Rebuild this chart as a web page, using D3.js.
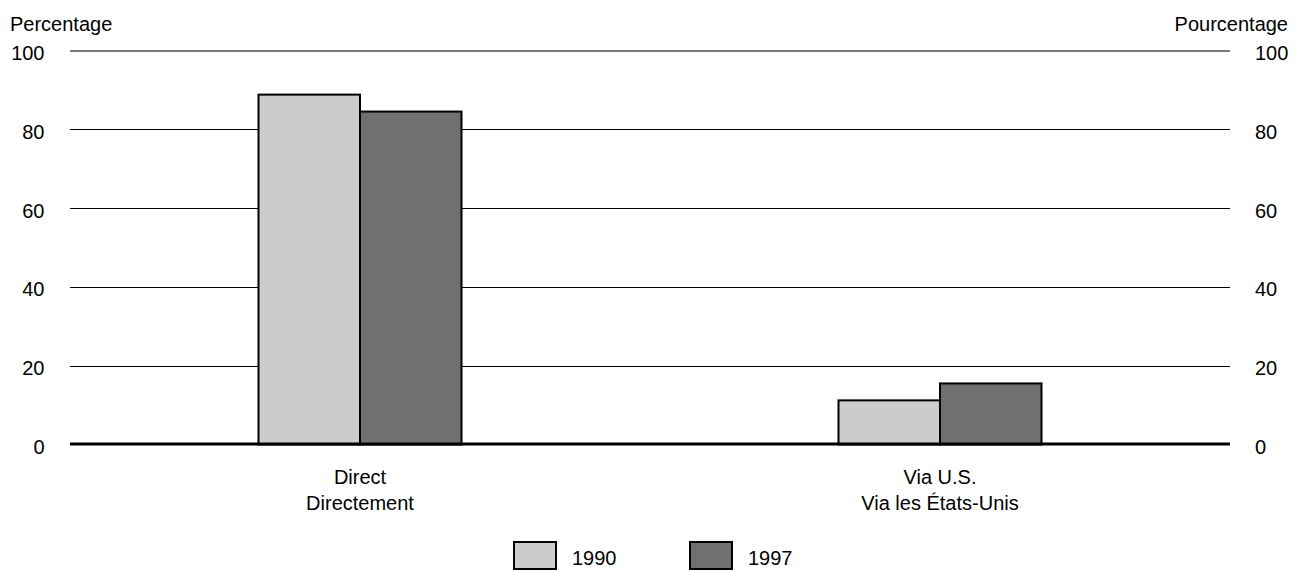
<!DOCTYPE html>
<html>
<head>
<meta charset="utf-8">
<script src="https://cdn.jsdelivr.net/npm/d3@7"></script>
<style>
  html, body { margin: 0; padding: 0; background: #fff; }
  svg { display: block; }
  text { font-family: "Liberation Sans", Arial, sans-serif; fill: #000; }
</style>
</head>
<body>
<svg id="chart" width="1299" height="570"></svg>
<script>
const categories = ["Direct|Directement", "Via U.S.|Via les États-Unis"];
const series = ["1990", "1997"];
const values1990 = [88.8, 11.2];
const values1997 = [84.5, 15.5];
const yTicks = [0, 20, 40, 60, 80, 100];
const colors = ["#cccccc", "#707070"];

const svg = d3.select("#chart");
const plotLeft = 70, plotRight = 1230, plotTop = 50.5, plotBottom = 444.5;
const fs = 20;

const y = d3.scaleLinear().domain([0, 100]).range([plotBottom, plotTop]);
const x = d3.scaleBand().domain(categories).range([plotLeft, plotRight]).padding(0);
const groupW = 203;
const xs = d3.scaleBand().domain(series).range([0, groupW]).padding(0);

// gridlines
svg.append("g").selectAll("line").data(yTicks.filter(d => d > 0)).join("line")
  .attr("x1", plotLeft).attr("x2", plotRight)
  .attr("y1", d => d === 100 ? Math.round(y(d)) : Math.round(y(d)) + 0.5)
  .attr("y2", d => d === 100 ? Math.round(y(d)) : Math.round(y(d)) + 0.5)
  .attr("stroke", d => d === 100 ? "#7a7a7a" : "#000")
  .attr("stroke-width", d => d === 100 ? 2 : 1);

// tick labels
svg.append("g").selectAll("text").data(yTicks).join("text")
  .attr("x", 44.5).attr("y", d => y(d) + 9.5)
  .attr("text-anchor", "end").attr("font-size", fs).text(d => d);
svg.append("g").selectAll("text").data(yTicks).join("text")
  .attr("x", 1255).attr("y", d => y(d) + 9.5)
  .attr("text-anchor", "start").attr("font-size", fs).text(d => d);

// axis titles
svg.append("text").attr("x", 10).attr("y", 30.5).attr("font-size", fs).text("Percentage");
svg.append("text").attr("x", 1288).attr("y", 30.5).attr("text-anchor", "end").attr("font-size", fs).text("Pourcentage");

// bars
const data = categories.map((c, i) => ({ cat: c, vals: [values1990[i], values1997[i]] }));
const g = svg.append("g");
data.forEach(d => {
  const start = x(d.cat) + x.bandwidth() / 2 - groupW / 2;
  g.selectAll(null).data(series.map((s, j) => ({ s, v: d.vals[j], j }))).join("rect")
    .attr("x", e => start + xs(e.s))
    .attr("y", e => y(e.v))
    .attr("width", xs.bandwidth())
    .attr("height", e => plotBottom - y(e.v))
    .attr("fill", e => colors[e.j])
    .attr("stroke", "#000")
    .attr("stroke-width", 2);
});

// baseline
svg.append("line").attr("x1", plotLeft).attr("x2", plotRight)
  .attr("y1", 444).attr("y2", 444).attr("stroke", "#000").attr("stroke-width", 3.2);

// category labels
const cl = svg.append("g");
categories.forEach(c => {
  const cx = x(c) + x.bandwidth() / 2;
  const parts = c.split("|");
  parts.forEach((p, k) => {
    cl.append("text").attr("x", cx).attr("y", 483.5 + k * 26.7)
      .attr("text-anchor", "middle").attr("font-size", fs).text(p);
  });
});

// legend
const legendX = [514, 690];
const lg = svg.append("g");
series.forEach((s, i) => {
  lg.append("rect").attr("x", legendX[i]).attr("y", 542).attr("width", 42).attr("height", 27)
    .attr("fill", colors[i]).attr("stroke", "#000").attr("stroke-width", 2);
  lg.append("text").attr("x", legendX[i] + 58).attr("y", 565).attr("font-size", fs).text(s);
});
</script>
</body>
</html>
